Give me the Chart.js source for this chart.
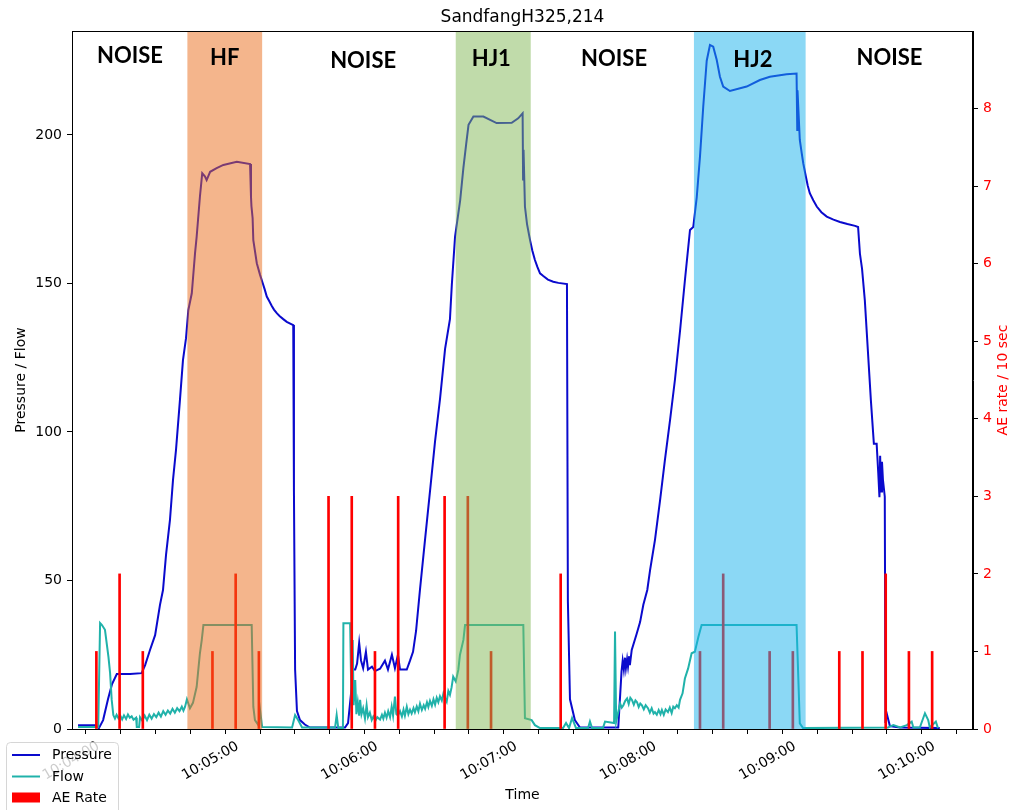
<!DOCTYPE html>
<html>
<head>
<meta charset="utf-8">
<script src="https://cdn.jsdelivr.net/npm/chart.js@4.4.1/dist/chart.umd.min.js"></script>
<style>
html,body{margin:0;padding:0;background:#fff;}
#wrap{width:1014px;height:810px;position:relative;}
</style>
</head>
<body>
<div id="wrap"><canvas id="c" width="1014" height="810"></canvas></div>
<script>
// Times are seconds after 10:00:00
const pressureTime = [229.1,236.4,238.1,239.9,242.0,243.7,245.8,251.5,256.5,258.0,
260.1,262.3,264.4,265.7,267.0,268.7,270.0,271.3,273.0,274.3,
275.6,276.6,278.1,279.5,280.2,281.6,282.6,283.8,284.5,286.0,
288.8,291.7,297.5,303.2,303.6,303.8,304.3,304.6,306.1,307.5,
308.7,309.5,310.4,311.5,312.5,313.5,314.7,316.0,317.5,319.0,
320.5,321.8,322.1,322.6,323.4,324.7,326.8,329.0,344.1,345.4,
346.7,347.6,348.5,349.3,350.2,351.0,351.9,353.1,354.0,355.7,
357.0,359.2,361.3,362.6,364.3,365.6,366.9,367.8,370.7,372.1,
373.4,374.7,376.4,378.6,380.7,382.9,385.0,387.2,389.3,390.1,
391.5,393.7,395.1,396.3,397.3,399.4,403.7,409.4,415.9,418.7,
420.6,420.8,421.0,421.6,422.5,423.8,424.8,425.9,427.0,428.1,
429.5,431.5,433.8,436.0,439.7,440.1,441.0,443.1,445.3,461.8,
463.2,463.7,464.2,464.7,465.1,465.6,466.0,466.5,466.8,467.6,
469.7,471.2,472.6,474.3,475.5,477.6,479.8,481.9,484.1,486.2,
488.4,490.5,492.7,494.1,495.6,497.0,498.4,499.9,501.3,502.7,
504.2,505.6,507.0,509.9,517.1,522.8,527.1,534.3,538.6,538.9,
539.0,540.0,540.8,541.5,542.6,543.4,544.3,545.8,547.3,549.3,
551.6,554.5,557.3,560.5,563.8,565.1,565.9,566.8,568.0,569.3,
570.6,571.9,573.1,573.8,574.3,574.6,575.0,575.4,575.8,576.6,
576.9,577.4,578.8,583.1,600.3];
const pressureValue = [1.3,1.3,0.3,3,10,15,18.5,18.5,18.8,21.5,
26.6,31.6,41.8,46.8,58.6,70.4,83.8,94,110.8,124.2,
131.5,141,146.7,160.2,165.8,179.2,187.1,186,184.8,187.6,
188.8,189.9,191,190.2,179.2,176,172,164.6,156.8,152.9,
150,148,145.6,144,142.5,141.2,140,139,138,137.1,
136.5,136,80,20,6,3,1.5,0.5,0.5,2,
12,20,20,22,29,23,20.5,26,20,21,
19.5,20.3,23,20,25,20.5,25,20,20,23,
26,33,47,64,80,97,111,128,138,149.5,
165.8,178,189,197,203.4,206.2,206.2,204,204.1,205.6,
207.3,185,195,175.9,170,164.6,161,157.9,155.5,153.4,
152.5,151.3,150.6,150.2,149.8,43,10,3,0.5,0.5,
19.3,23,20,24,20.5,23.5,21,24.5,21.5,26.6,
32,36,41.8,46.8,53.5,63.6,77,90.6,104,117.5,
134,151,168,169,179,192.7,209.5,225,230.3,229.7,
225.3,219.6,216.3,214.8,216.3,218.5,219.6,220.4,220.7,201.7,
215,198.3,194,190.4,186,183,180.4,178,175.9,174,
172.5,171.5,170.7,170,169.4,169,160,155,144.4,127.6,
110.8,96,96,86,78,92,80,90,84,78.2,
2,5.3,1,0.5,0.3];

const flowTime = [229.1,236.4,237.8,238.6,239.4,240.7,242.2,242.9,243.6,244.3,
245.0,245.7,246.5,247.3,248.1,248.9,249.8,250.6,251.4,252.2,
253.0,254.1,254.4,255.4,255.8,256.8,257.8,258.8,259.8,260.8,
261.8,262.8,263.8,264.8,265.8,266.8,267.8,268.8,269.8,270.8,
271.8,272.8,273.8,274.5,275.2,276.0,277.3,278.6,280.2,280.9,
281.6,282.4,283.1,303.9,304.6,305.3,306.8,307.5,308.4,321.3,
322.6,323.9,325.6,339.8,340.5,341.2,343.2,343.4,346.3,347.0,
347.4,347.8,348.5,349.0,349.6,350.2,350.6,351.2,351.9,352.7,
353.4,354.0,354.8,355.6,356.3,357.2,358.0,359.2,360.0,360.6,
361.3,362.0,362.7,363.5,364.2,364.8,365.6,366.2,366.9,367.8,
368.6,369.3,369.9,370.7,371.4,372.1,372.8,373.6,374.2,375.0,
375.7,376.4,377.2,378.0,378.6,379.4,380.0,380.7,381.5,382.2,
382.9,383.6,384.3,385.0,385.8,386.5,387.2,387.9,388.6,389.3,
390.0,390.7,391.8,392.9,393.6,395.1,395.8,420.9,421.6,424.5,
425.9,428.1,438.0,439.3,440.6,441.9,443.6,448.8,449.6,450.5,
455.2,456.1,460.0,460.4,460.9,462.6,463.3,464.0,464.8,465.6,
466.3,467.0,467.7,468.5,469.2,469.9,470.6,471.3,472.0,472.8,
473.6,474.6,475.4,476.2,477.0,477.6,478.4,479.2,480.0,480.6,
481.4,482.2,483.2,484.0,484.8,485.5,486.2,487.0,487.8,488.4,
489.5,490.5,491.9,493.4,494.8,496.3,497.7,538.6,540.0,541.4,
578.0,580.3,583.2,586.1,588.2,588.9,591.7,593.9,595.3,596.0,
598.6,599.5];
const flowValue = [0.7,0.7,0.7,35.7,35,33.4,24.3,18.9,9.8,4.7,
3.5,4.8,3.6,4.5,3.2,4.6,3.4,4.9,3.8,4.3,
3.1,3.8,0.7,0.7,4,2.8,4.5,3,4.8,3.5,
5,4,5.5,4.2,6,4.8,6.2,5.2,6.8,5.5,
7,6,7.5,6.2,7.5,10,7,8.8,14.2,19.9,
25.5,30,35,35,7.5,3,1.3,6.4,0.7,0.5,
4.7,3,0.5,0.5,4.7,0.3,0.3,35.6,35.6,3,
30,8,16.5,5,9,4.5,9.8,5,7,3.5,
8,4,5.5,3,4.2,2.8,4,3.2,4.8,3.5,
5.5,3.8,6,4,7.5,4.5,10.9,5,4.5,6,
4.2,6.5,4.5,7.5,5,6.5,5.2,7,5.6,7.6,
6,8.5,6.4,8,6.8,9,7.4,9.5,7.8,10,
8.2,10.5,9,11,9.6,12,10.5,9.2,12.8,11.5,
14,17.6,16,19.9,24.9,30,35,35,3.6,3,
1.3,0.3,0.3,2,0.3,3.7,0.3,0.3,2.5,0.3,
0.3,2.5,2,32.8,2.5,8.6,7.2,8,9.5,10.3,
8.4,10.5,9.8,8.2,9.6,9,7.4,8.6,8,6.6,
8,7,5.5,7,5.2,5.7,4.8,6.4,5,6.4,
4.8,6.6,5.7,7.2,5.4,7.5,7,8,7.2,9.8,
12,17,20.4,25.5,26,31,35,35,1.9,0.3,
0.5,1.3,0.5,1.3,2.5,0.5,0.5,5.3,3,0.5,
2.5,0.3];

const aeTime = [237,247,257,287,297,307,337,347,357,367,387,397,407,437,497,507,527,537,557,567,577,587,597];
const aeRate = [1,2,1,1,2,1,3,3,1,3,3,3,1,2,1,2,1,1,1,1,2,1,1];

const regionNames = ['HF','HJ1','HJ2'];
const regionStart = [276.2, 391.8, 494.4];
const regionEnd = [308.4, 424.1, 542.5];
const regionColors = ['rgba(233,107,25,0.5)','rgba(129,183,85,0.5)','rgba(23,177,235,0.5)'];

const phaseLabels = ['NOISE','HF','NOISE','HJ1','NOISE','HJ2','NOISE'];
const phaseLabelTime = [251.5, 292.3, 351.9, 407.1, 460.0, 519.8, 578.6];
const phaseLabelLevel = [226.5, 225.8, 225.0, 225.5, 225.5, 225.3, 226.0];

const xTicks = [];
for (let t = 240; t <= 600; t += 15) xTicks.push(t);
const leftTicks = [0, 50, 100, 150, 200];
const rightTicks = [0, 1, 2, 3, 4, 5, 6, 7, 8];

const FONT = 'DejaVu Sans';
function fmtTime(s) {
  const m = Math.floor(s / 60), sec = Math.round(s % 60);
  return '10:' + String(m).padStart(2, '0') + ':' + String(sec).padStart(2, '0');
}

const overlay = {
  id: 'overlay',
  beforeDraw(chart) {
    const ctx = chart.ctx;
    ctx.save();
    ctx.fillStyle = '#fff';
    ctx.fillRect(0, 0, chart.width, chart.height);
    ctx.restore();
  },
  afterDatasetsDraw(chart) {
    const {ctx, chartArea: a, scales} = chart;
    const x = scales.x, y = scales.y;
    ctx.save();
    regionStart.forEach((s, i) => {
      const x0 = x.getPixelForValue(s), x1 = x.getPixelForValue(regionEnd[i]);
      ctx.fillStyle = regionColors[i];
      ctx.fillRect(x0, a.top, x1 - x0, a.bottom - a.top);
    });
    ctx.strokeStyle = '#000';
    ctx.lineWidth = 1;
    ctx.strokeRect(Math.round(a.left) + 0.5, Math.round(a.top) + 0.5, Math.round(a.right - a.left) - 1, Math.round(a.bottom - a.top));
    ctx.fillStyle = '#000';
    ctx.font = 'bold 22px Lato';
    ctx.textAlign = 'center';
    ctx.textBaseline = 'middle';
    phaseLabels.forEach((t, i) => {
      ctx.fillText(t, x.getPixelForValue(phaseLabelTime[i]), y.getPixelForValue(phaseLabelLevel[i]));
    });
    ctx.restore();
  },
  afterDraw(chart) {
    const ctx = chart.ctx;
    const a = chart.chartArea;
    ctx.save();
    ctx.translate(1003, (a.top + a.bottom) / 2);
    ctx.rotate(-Math.PI / 2);
    ctx.fillStyle = '#ff0000';
    ctx.font = '14px "' + FONT + '"';
    ctx.textAlign = 'center';
    ctx.textBaseline = 'middle';
    ctx.fillText('AE rate / 10 sec', 0, 0);
    ctx.restore();
    // legend
    ctx.save();
    const bx = 6.5, by = 742.5, bw = 112, bh = 80, r = 4;
    ctx.beginPath();
    ctx.moveTo(bx + r, by);
    ctx.lineTo(bx + bw - r, by);
    ctx.quadraticCurveTo(bx + bw, by, bx + bw, by + r);
    ctx.lineTo(bx + bw, by + bh);
    ctx.lineTo(bx, by + bh);
    ctx.lineTo(bx, by + r);
    ctx.quadraticCurveTo(bx, by, bx + r, by);
    ctx.closePath();
    ctx.fillStyle = 'rgba(255,255,255,0.8)';
    ctx.fill();
    ctx.strokeStyle = 'rgba(204,204,204,0.8)';
    ctx.lineWidth = 1;
    ctx.stroke();
    const items = chart.data.datasets;
    const rows = [755, 776.5, 797.5];
    ctx.font = '14px "' + FONT + '"';
    ctx.textAlign = 'left';
    ctx.textBaseline = 'middle';
    items.forEach((ds, i) => {
      const yy = rows[i];
      if (ds.type === 'bar') {
        ctx.fillStyle = ds.backgroundColor;
        ctx.fillRect(12, yy - 5, 28, 10);
      } else {
        ctx.strokeStyle = ds.borderColor;
        ctx.lineWidth = 2;
        ctx.beginPath();
        ctx.moveTo(12, yy);
        ctx.lineTo(40, yy);
        ctx.stroke();
      }
      ctx.fillStyle = '#000';
      ctx.fillText(ds.label, 52, yy + 0.5);
    });
    ctx.restore();
  }
};

const toXY = (ts, vs) => ts.map((t, i) => ({x: t, y: vs[i]}));

new Chart(document.getElementById('c'), {
  type: 'line',
  data: {
    datasets: [
      {label: 'Pressure', data: toXY(pressureTime, pressureValue), borderColor: '#0a0acd', borderWidth: 2,
       pointRadius: 0, tension: 0, yAxisID: 'y', order: 3},
      {label: 'Flow', data: toXY(flowTime, flowValue), borderColor: '#20b2aa', borderWidth: 2,
       pointRadius: 0, tension: 0, yAxisID: 'y', order: 2},
      {type: 'bar', label: 'AE Rate', data: toXY(aeTime, aeRate), backgroundColor: '#ff0000', borderWidth: 0,
       barThickness: 2, yAxisID: 'y2', order: 1}
    ]
  },
  options: {
    responsive: false,
    devicePixelRatio: 1,
    animation: false,
    events: [],
    layout: {padding: 0},
    plugins: {
      legend: {display: false},
      tooltip: {enabled: false},
      title: {display: true, fullSize: false, text: 'SandfangH325,214', color: '#000',
        font: {family: FONT, size: 17, weight: 'normal'}, padding: {top: 7, bottom: 3.6}}
    },
    scales: {
      x: {
        type: 'linear', position: 'bottom', min: 226.5, max: 614.6, offset: false,
        afterBuildTicks: s => { s.ticks = xTicks.map(v => ({value: v})); },
        afterFit: s => { s.height = 81; },
        ticks: {autoSkip: false, minRotation: 30, maxRotation: 30, padding: 4, labelOffset: -5, color: '#000',
          font: {family: FONT, size: 14},
          callback: v => (v % 60 === 0 ? fmtTime(v) : '')},
        grid: {drawOnChartArea: false, drawTicks: true, tickLength: 5, color: '#000'},
        border: {display: true, color: '#000', width: 1},
        title: {display: true, text: 'Time', color: '#000', font: {family: FONT, size: 14}, padding: {top: 0, bottom: 6.6}}
      },
      y: {
        type: 'linear', position: 'left', min: 0, max: 235,
        afterBuildTicks: s => { s.ticks = leftTicks.map(v => ({value: v})); },
        afterFit: s => { s.width = 72; },
        ticks: {padding: 5, color: '#000', font: {family: FONT, size: 14}},
        grid: {drawOnChartArea: false, drawTicks: true, tickLength: 5, color: '#000'},
        border: {display: true, color: '#000', width: 1},
        title: {display: true, text: 'Pressure / Flow', color: '#000', font: {family: FONT, size: 14}, padding: {top: 12.6, bottom: 0}}
      },
      y2: {
        type: 'linear', position: 'right', min: 0, max: 9,
        afterBuildTicks: s => { s.ticks = rightTicks.map(v => ({value: v})); },
        afterFit: s => { s.width = 41; },
        ticks: {padding: 5, color: '#ff0000', font: {family: FONT, size: 14}},
        grid: {drawOnChartArea: false, drawTicks: true, tickLength: 5, color: '#000'},
        border: {display: true, color: '#000', width: 1},
        title: {display: false}
      }
    }
  },
  plugins: [overlay]
});
</script>
</body>
</html>
